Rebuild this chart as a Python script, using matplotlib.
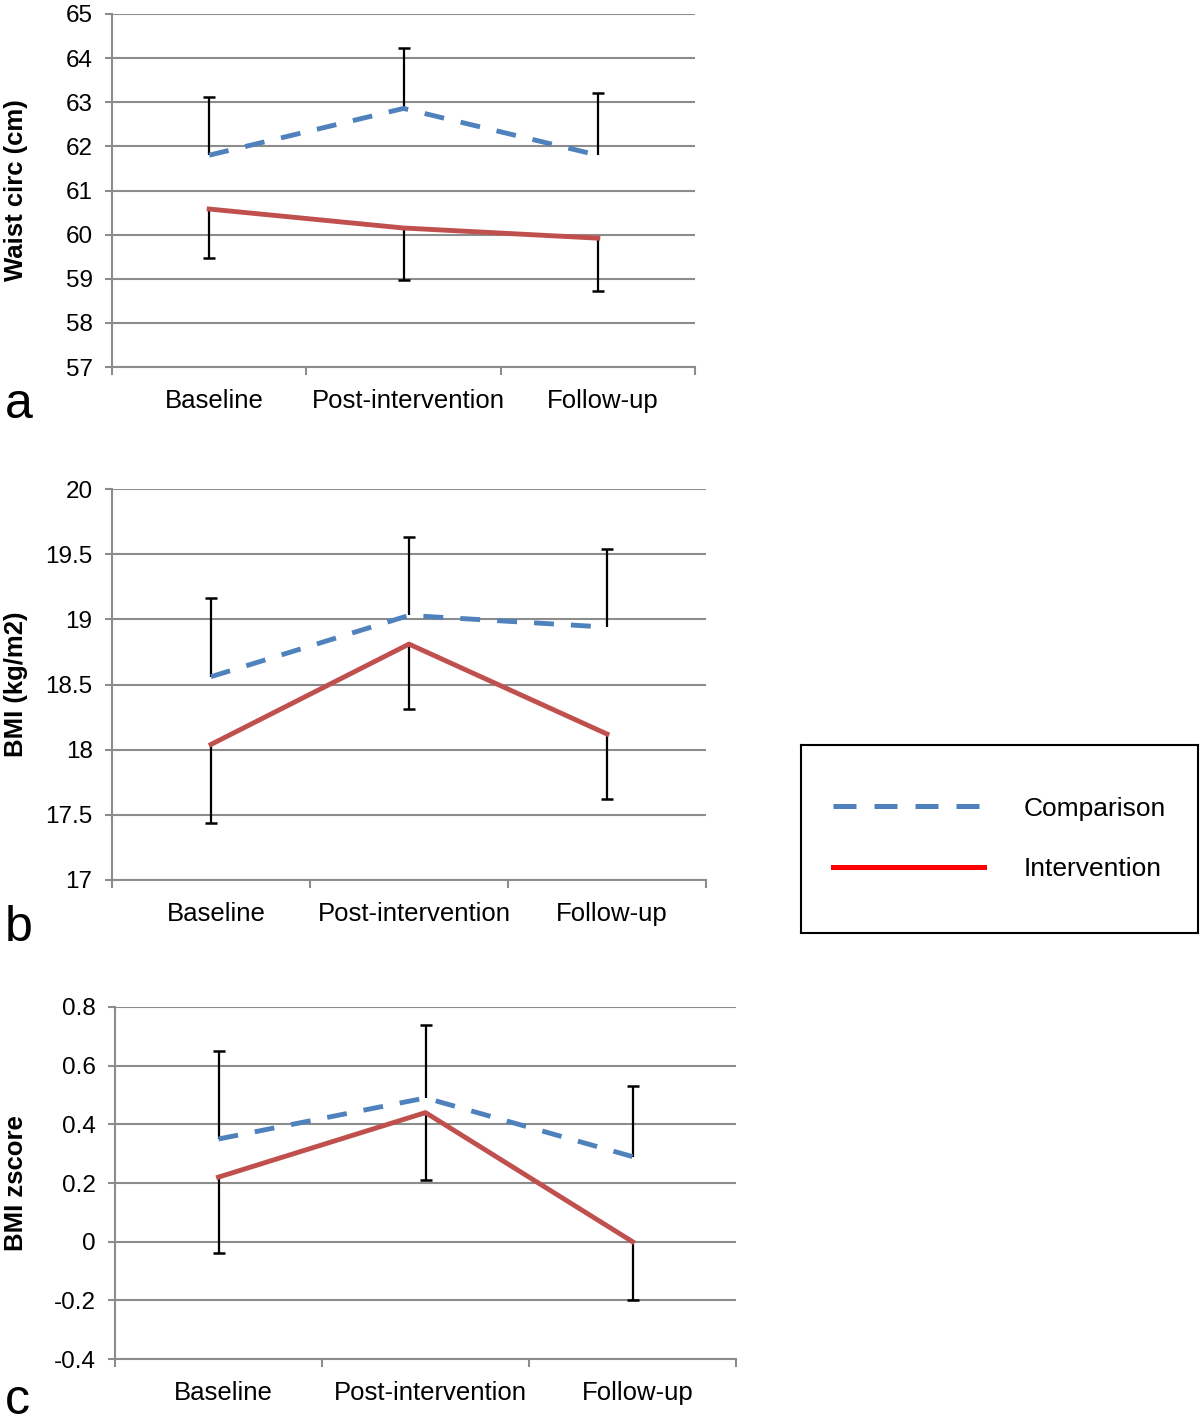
import matplotlib
matplotlib.use("Agg")
import matplotlib.pyplot as plt
from matplotlib.lines import Line2D
from matplotlib.transforms import ScaledTranslation

plt.rcParams['font.family'] = ['Liberation Sans', 'DejaVu Sans']

categories = ["Baseline", "Post-intervention", "Follow-up"]

# Panel a: Waist circumference (cm)
waist_comp = [61.8, 62.86, 61.8]
waist_comp_upper = [63.12, 64.23, 63.2]
waist_int = [60.58, 60.15, 59.92]
waist_int_lower = [59.48, 58.97, 58.72]

# Panel b: BMI (kg/m2)
bmi_comp = [18.56, 19.03, 18.94]
bmi_comp_upper = [19.16, 19.63, 19.54]
bmi_int = [18.04, 18.81, 18.12]
bmi_int_lower = [17.44, 18.31, 17.62]

# Panel c: BMI zscore
z_comp = [0.35, 0.49, 0.29]
z_comp_upper = [0.65, 0.74, 0.53]
z_int = [0.22, 0.44, 0.0]
z_int_lower = [-0.04, 0.21, -0.2]

panels = [
    dict(rect=[112, 14, 695, 367], ylim=(57, 65), yticks=[57, 58, 59, 60, 61, 62, 63, 64, 65],
         ylabels=["57", "58", "59", "60", "61", "62", "63", "64", "65"], ylabel="Waist circ (cm)",
         comp=waist_comp, comp_up=waist_comp_upper, inter=waist_int, inter_lo=waist_int_lower,
         letter="a", letter_y=418),
    dict(rect=[112, 489, 706, 880], ylim=(17, 20), yticks=[17, 17.5, 18, 18.5, 19, 19.5, 20],
         ylabels=["17", "17.5", "18", "18.5", "19", "19.5", "20"], ylabel="BMI (kg/m2)",
         comp=bmi_comp, comp_up=bmi_comp_upper, inter=bmi_int, inter_lo=bmi_int_lower,
         letter="b", letter_y=941),
    dict(rect=[115, 1007, 736, 1359], ylim=(-0.4, 0.8), yticks=[-0.4, -0.2, 0, 0.2, 0.4, 0.6, 0.8],
         ylabels=["-0.4", "-0.2", "0", "0.2", "0.4", "0.6", "0.8"], ylabel="BMI zscore",
         comp=z_comp, comp_up=z_comp_upper, inter=z_int, inter_lo=z_int_lower,
         letter="c", letter_y=1414),
]

W, H = 1200, 1428
fig = plt.figure(figsize=(W / 100, H / 100), dpi=100)

comp_color = "#4F81BD"
int_color = "#C0504D"
grid_color = "#8C8C8C"

for p in panels:
    x0, y0, x1, y1 = p["rect"]
    ax = fig.add_axes([x0 / W, 1 - y1 / H, (x1 - x0) / W, (y1 - y0) / H])
    xs = list(range(len(categories)))
    comp = p["comp"]; inter = p["inter"]
    # error bars: upper only for comparison, lower only for intervention
    ax.vlines(xs, comp, p["comp_up"], color="black", lw=1.6, zorder=3)
    ax.plot(xs, p["comp_up"], ls="none", marker="_", ms=9, mew=1.8, color="black", zorder=3)
    ax.vlines(xs, p["inter_lo"], inter, color="black", lw=1.6, zorder=3)
    ax.plot(xs, p["inter_lo"], ls="none", marker="_", ms=9, mew=1.8, color="black", zorder=3)
    ax.plot(xs, comp, color=comp_color, lw=3.5, dashes=(4.1, 3.5), zorder=4)
    ax.plot(xs, inter, color=int_color, lw=3.5, zorder=4)

    ax.set_xlim(-0.5, 2.5)
    ax.set_ylim(*p["ylim"])
    ax.set_yticks(p["yticks"])
    ax.set_yticklabels(p["ylabels"], fontsize=17.5)
    ax.set_xticks([-0.5, 0.5, 1.5, 2.5])
    ax.set_xticklabels([])
    ax.set_xticks(xs, minor=True)
    ax.set_xticklabels(categories, minor=True, fontsize=18.5)
    ax.tick_params(axis="x", which="minor", length=0, pad=16)
    ax.tick_params(axis="x", which="major", length=6, width=1.5, color=grid_color)
    ax.tick_params(axis="y", length=5, width=1.5, color=grid_color, pad=9)
    shift = ScaledTranslation(5 / 100, 0, fig.dpi_scale_trans)
    for lab in ax.xaxis.get_minorticklabels():
        lab.set_transform(lab.get_transform() + shift)
    ax.grid(axis="y", color=grid_color, lw=1.5, zorder=0)
    ax.set_axisbelow(True)
    for s in ["top", "right"]:
        ax.spines[s].set_visible(False)
    for s in ["left", "bottom"]:
        ax.spines[s].set_color(grid_color)
        ax.spines[s].set_linewidth(1.5)
    ax.set_ylabel(p["ylabel"], fontsize=18.5, fontweight="bold")
    ax.yaxis.set_label_coords(-(x0 - 28) / (x1 - x0), 0.5)
    fig.text(5 / W, 1 - p["letter_y"] / H, p["letter"], fontsize=36, ha="left", va="baseline")

# Legend box
lax = fig.add_axes([801 / W, 1 - 933 / H, (1198 - 801) / W, (933 - 745) / H])
lax.set_xticks([]); lax.set_yticks([])
for s in lax.spines.values():
    s.set_color("black"); s.set_linewidth(1.5)
handles = [Line2D([], [], color=comp_color, lw=3.6, dashes=(4.6, 3.6)),
           Line2D([], [], color="#FF0000", lw=3.6)]
lax.legend(handles, ["Comparison", "Intervention"], loc="center", frameon=False,
           fontsize=19, handlelength=5.7, handletextpad=1.5, labelspacing=1.4,
           bbox_to_anchor=(0.5, 0.5))

fig.savefig("out.png", dpi=100, facecolor="white")
